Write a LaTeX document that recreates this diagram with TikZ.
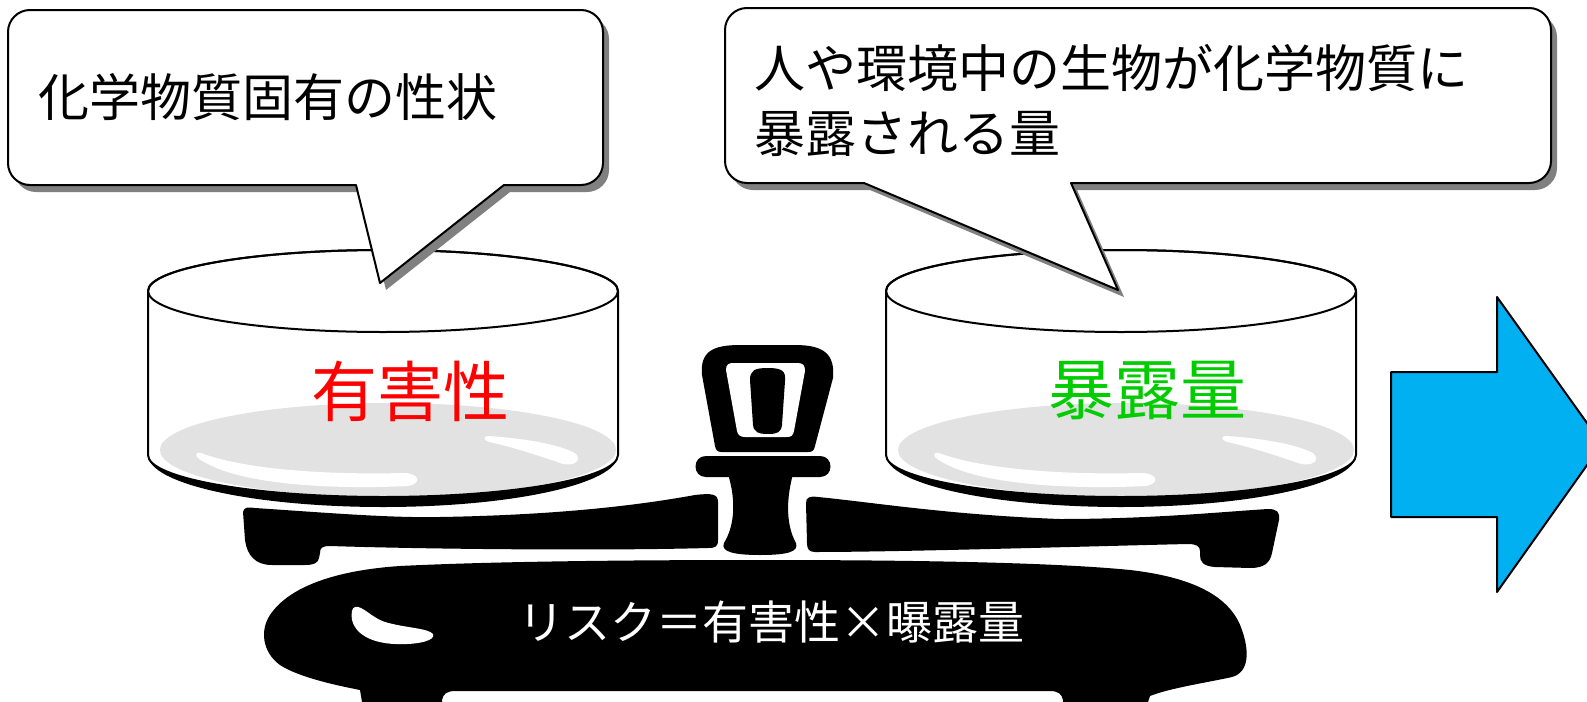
\documentclass[tikz,border=0pt]{standalone}
\usepackage{fontspec}
\newfontfamily\jp{Noto Sans CJK JP}
\definecolor{hazardred}{HTML}{FF0000}
\definecolor{exposegreen}{HTML}{00CC00}
\definecolor{arrowblue}{HTML}{00B0F0}
\definecolor{panfloor}{HTML}{E2E2E2}
\definecolor{shade}{HTML}{808080}
\begin{document}
\begin{tikzpicture}[x=0.5pt,y=-0.5pt,line join=round,
  outline/.style={draw=black,line width=1pt},
  balloonshadow/.style={fill=shade},
  balloon/.style={fill=white,outline},
  bubbletext/.style={inner sep=0pt,font=\jp\fontsize{25.5}{32.5}\selectfont},
  pantext/.style={inner sep=0pt,font=\jp\fontsize{33}{40}\selectfont},
  scalebody/.style={fill=black},
  pan/.pic={
    % body of the pan, y grows downwards
    \def\panbody{(-235,0) -- (-235,164) arc[start angle=180,end angle=0,x radius=235,y radius=42] -- (235,0) arc[start angle=0,end angle=-180,x radius=235,y radius=41] -- cycle}
    \fill[white] \panbody;
    \begin{scope}
      \clip \panbody;
      \fill[panfloor] (5,159) ellipse[x radius=228,y radius=47];
      % glints on the floor of the pan
      \fill[white] (-182,162) .. controls (-140,178) and (-60,184) .. (20,182)
        .. controls (36,182) and (40,192) .. (25,195)
        .. controls (-60,199) and (-140,192) .. (-175,173)
        .. controls (-190,166) and (-189,161) .. (-182,162) -- cycle;
      \fill[white] (105,145) .. controls (140,147) and (180,154) .. (193,163)
        .. controls (199,170) and (191,175) .. (180,173)
        .. controls (160,166) and (130,156) .. (106,151)
        .. controls (100,149) and (100,145) .. (105,145) -- cycle;
    \end{scope}
    % dark rim under the pan
    \fill[black] (-235,164) arc[start angle=180,end angle=0,x radius=235,y radius=52]
      arc[start angle=0,end angle=180,x radius=235,y radius=42] -- cycle;
    \draw[outline] \panbody;
    \draw[outline] (0,0) ellipse[x radius=235,y radius=41];
  }]
\clip (0,0) rectangle (1587,702);
\useasboundingbox (0,0) rectangle (1587,702);
\fill[white] (0,0) rectangle (1587,702);

% the two pans
\pic (leftpan) at (383,291) {pan};
\pic (rightpan) at (1121,291) {pan};
\node[pantext,text=hazardred] (hazard) at (410,391) {有害性};
\node[pantext,text=exposegreen] (exposure) at (1147,391) {暴露量};

% speech balloons
\def\leftballoon{(30,10) -- (581,10) arc[start angle=-90,end angle=0,radius=22] -- (603,163) arc[start angle=0,end angle=90,radius=22] -- (504,185) -- (380,283) -- (356,185) -- (30,185) arc[start angle=90,end angle=180,radius=22] -- (8,32) arc[start angle=180,end angle=270,radius=22] -- cycle}
\def\rightballoon{(747,8) -- (1529,8) arc[start angle=-90,end angle=0,radius=22] -- (1551,161) arc[start angle=0,end angle=90,radius=22] -- (1071,183) -- (1118,290) -- (864,183) -- (747,183) arc[start angle=90,end angle=180,radius=22] -- (725,30) arc[start angle=180,end angle=270,radius=22] -- cycle}
\begin{scope}[shift={(6,7)}]
  \fill[balloonshadow] \leftballoon;
  \fill[balloonshadow] \rightballoon;
\end{scope}
\path[balloon] \leftballoon;
\path[balloon] \rightballoon;
\node[bubbletext,anchor=west] (property) at (38,97) {化学物質固有の性状};
\node[bubbletext,anchor=west,align=left] (amount) at (754,100) {人や環境中の生物が化学物質に\\暴露される量};

% handle on top of the column
\fill[scalebody] (702,375) .. controls (700,352) and (712,345) .. (740,345) -- (795,345)
  .. controls (825,345) and (835,355) .. (833,378) -- (815,446)
  .. controls (814,451) and (812,452) .. (808,452) -- (722,452)
  .. controls (717,452) and (716,450) .. (715,446) -- cycle;
\fill[white] (726,370) .. controls (726,364) and (729,363) .. (734,363) -- (797,363)
  .. controls (803,363) and (805,365) .. (805,371) -- (794,431)
  .. controls (793,436) and (791,437) .. (786,437) -- (745,437)
  .. controls (740,437) and (738,435) .. (737,431) -- cycle;
\fill[scalebody] (750,380) .. controls (750,370) and (755,368) .. (768,368)
  .. controls (782,368) and (786,371) .. (785,381) -- (782,425)
  .. controls (781,432) and (778,434) .. (768,434)
  .. controls (758,434) and (754,432) .. (753,425) -- cycle;
% cross piece and column
\fill[scalebody] (706,456) -- (820,456) .. controls (834,456) and (834,477) .. (820,477)
  -- (706,477) .. controls (692,477) and (692,456) .. (706,456) -- cycle;
\fill[scalebody] (728,474) .. controls (736,500) and (735,525) .. (724,543)
  .. controls (720,552) and (735,555) .. (760,555)
  .. controls (787,555) and (799,552) .. (796,543)
  .. controls (786,525) and (786,500) .. (793,474) -- cycle;

% beams
\fill[scalebody] (243,512) .. controls (244,507) and (248,507) .. (255,508)
  .. controls (330,513) and (390,518) .. (440,517)
  .. controls (560,515) and (640,505) .. (695,495)
  .. controls (712,493) and (718,494) .. (718,502) -- (718,540)
  .. controls (718,547) and (715,548) .. (708,548)
  .. controls (600,551) and (420,549) .. (330,546)
  .. controls (322,546) and (320,548) .. (320,553) -- (319,558)
  .. controls (318,563) and (314,565) .. (305,565) -- (272,565)
  .. controls (255,565) and (247,555) .. (245,540) -- cycle;
\fill[scalebody] (806,503) .. controls (806,497) and (810,496) .. (818,497)
  .. controls (870,502) and (950,515) .. (1060,519)
  .. controls (1150,519) and (1220,512) .. (1268,509)
  .. controls (1277,509) and (1280,512) .. (1279,520) -- (1272,553)
  .. controls (1270,563) and (1264,568) .. (1250,568) -- (1215,567)
  .. controls (1203,566) and (1200,562) .. (1200,555) -- (1200,551)
  .. controls (1200,546) and (1196,544) .. (1188,544)
  .. controls (1100,546) and (900,552) .. (815,552)
  .. controls (809,552) and (807,549) .. (807,543) -- cycle;

% base
\fill[scalebody] (760,560) .. controls (900,560) and (1050,562) .. (1130,570)
  .. controls (1200,578) and (1232,600) .. (1242,630)
  .. controls (1249,650) and (1250,672) .. (1232,677)
  .. controls (1210,682) and (1170,688) .. (1150,696) -- (1148,702) -- (1063,702) -- (1063,700)
  .. controls (1062,694) and (1058,691) .. (1050,691) -- (455,691)
  .. controls (447,691) and (443,694) .. (442,700) -- (442,702) -- (362,702) -- (360,690)
  .. controls (340,686) and (300,678) .. (280,665)
  .. controls (262,652) and (260,630) .. (270,615)
  .. controls (290,585) and (340,570) .. (400,566)
  .. controls (500,561) and (650,560) .. (760,560) -- cycle;
\fill[white] (355,607) .. controls (362,605) and (372,618) .. (385,622)
  .. controls (405,628) and (428,628) .. (433,634)
  .. controls (436,640) and (420,645) .. (395,644)
  .. controls (370,643) and (355,633) .. (352,620)
  .. controls (351,612) and (352,608) .. (355,607) -- cycle;
\node[text=white,inner sep=0pt,font=\jp\fontsize{23}{28}\selectfont] (risk) at (771,622) {リスク＝有害性×曝露量};

% block arrow
\filldraw[fill=arrowblue,draw=black,line width=1pt] (1391,372) -- (1497,372) -- (1497,297)
  -- (1602,444) -- (1497,592) -- (1497,517) -- (1391,517) -- cycle;
\end{tikzpicture}
\end{document}
